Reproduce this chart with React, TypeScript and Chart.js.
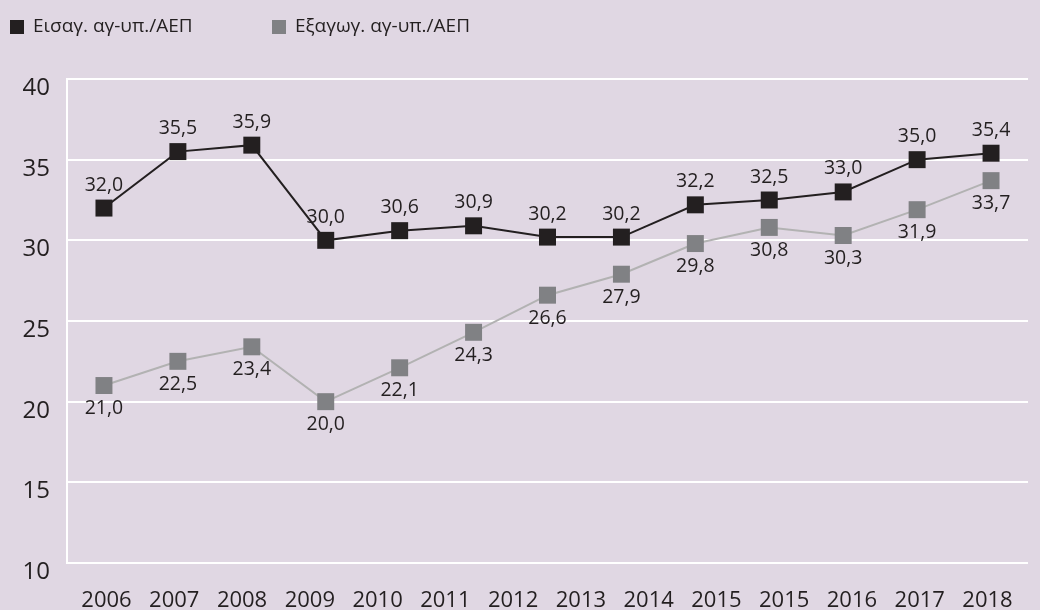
import React, { useEffect, useRef } from "react";
import { Chart, registerables } from "chart.js";

Chart.register(...registerables);

const FONT = "'Open Sans', Roboto, sans-serif";
const TEXT = "#231f20";

// Categories of the plotted points
const categories = ["2006", "2007", "2008", "2009", "2010", "2011", "2012", "2013", "2014", "2015", "2016", "2017", "2018"];
// Tick labels printed under the axis (as in the original)
const tickLabels = ["2006", "2007", "2008", "2009", "2010", "2011", "2012", "2013", "2014", "2015", "2015", "2016", "2017", "2018"];

const importsGdp = [32.0, 35.5, 35.9, 30.0, 30.6, 30.9, 30.2, 30.2, 32.2, 32.5, 33.0, 35.0, 35.4];
const exportsGdp = [21.0, 22.5, 23.4, 20.0, 22.1, 24.3, 26.6, 27.9, 29.8, 30.8, 30.3, 31.9, 33.7];

const seriesLabels = ["Εισαγ. αγ-υπ./ΑΕΠ", "Εξαγωγ. αγ-υπ./ΑΕΠ"];

const yMin = 10;
const yMax = 40;
const yStep = 5;

const fmt = (v: number) => v.toFixed(1).replace(".", ",");

const legendPlugin = {
  id: "customLegend",
  afterDraw(chart: any, _args: any, opts: any) {
    const ctx = chart.ctx;
    ctx.save();
    ctx.font = `${opts.fontSize}px ${FONT}`;
    ctx.textBaseline = "middle";
    ctx.textAlign = "left";
    chart.data.datasets.forEach((ds: any, i: number) => {
      const x = opts.xs[i];
      ctx.fillStyle = ds.pointBackgroundColor;
      ctx.fillRect(x, opts.y - 7, 14, 14);
      ctx.fillStyle = TEXT;
      ctx.fillText(ds.label, x + 23, opts.y);
    });
    ctx.restore();
  },
};

const valueLabelPlugin = {
  id: "valueLabels",
  afterDatasetsDraw(chart: any, _args: any, opts: any) {
    const ctx = chart.ctx;
    ctx.save();
    ctx.font = `${opts.fontSize}px ${FONT}`;
    ctx.fillStyle = TEXT;
    ctx.textAlign = "center";
    ctx.textBaseline = "middle";
    chart.data.datasets.forEach((ds: any, i: number) => {
      const meta = chart.getDatasetMeta(i);
      const off = opts.offsets[i];
      meta.data.forEach((el: any, j: number) => {
        ctx.fillText(fmt(ds.data[j]), el.x, el.y + off);
      });
    });
    ctx.restore();
  },
};

export default function App() {
  const ref = useRef<HTMLCanvasElement | null>(null);

  useEffect(() => {
    document.body.style.margin = "0";
    if (!ref.current) return;
    const chart = new Chart(ref.current, {
      type: "line",
      data: {
        labels: categories,
        datasets: [
          {
            label: seriesLabels[0],
            data: importsGdp,
            xAxisID: "x",
            yAxisID: "y",
            borderColor: "#231f20",
            borderWidth: 2,
            pointStyle: "rect",
            pointRadius: 12,
            pointHoverRadius: 12,
            pointBackgroundColor: "#231f20",
            pointBorderWidth: 0,
            tension: 0,
          },
          {
            label: seriesLabels[1],
            data: exportsGdp,
            xAxisID: "x",
            yAxisID: "y",
            borderColor: "#b2b2b2",
            borderWidth: 2,
            pointStyle: "rect",
            pointRadius: 12,
            pointHoverRadius: 12,
            pointBackgroundColor: "#808184",
            pointBorderWidth: 0,
            tension: 0,
          },
        ],
      },
      options: {
        animation: false,
        responsive: true,
        maintainAspectRatio: false,
        layout: { padding: { top: 79, left: 0, right: 0, bottom: 0 } },
        plugins: {
          legend: { display: false },
          tooltip: { enabled: false },
          customLegend: { xs: [10, 272], y: 27, fontSize: 19 },
          valueLabels: { fontSize: 19.5, offsets: [-23, 23] },
        } as any,
        scales: {
          x: {
            type: "category",
            display: false,
            offset: true,
          },
          xl: {
            type: "linear",
            position: "bottom",
            min: -0.583,
            max: 13.598,
            afterBuildTicks: (s: any) => {
              s.ticks = tickLabels.map((_, i) => ({ value: i }));
            },
            afterFit: (s: any) => {
              s.height = 47;
            },
            grid: { display: false, drawTicks: false },
            border: { display: false },
            ticks: {
              autoSkip: false,
              maxRotation: 0,
              padding: 25,
              color: TEXT,
              font: { family: FONT, size: 22 },
              callback: (v: any) => tickLabels[Math.round(v)] ?? "",
            },
          },
          y: {
            type: "linear",
            min: yMin,
            max: yMax,
            afterFit: (s: any) => {
              s.width = 67;
            },
            grid: { color: "#ffffff", lineWidth: 2, drawTicks: false },
            border: { color: "#ffffff", width: 2 },
            ticks: {
              stepSize: yStep,
              padding: 17,
              labelOffset: 9,
              color: TEXT,
              font: { family: FONT, size: 24 },
            },
          },
        } as any,
      },
      plugins: [legendPlugin, valueLabelPlugin],
    });
    return () => chart.destroy();
  }, []);

  return (
    <div style={{ width: 1040, height: 610, background: "#e0d7e3", position: "relative" }}>
      <canvas ref={ref} />
    </div>
  );
}
